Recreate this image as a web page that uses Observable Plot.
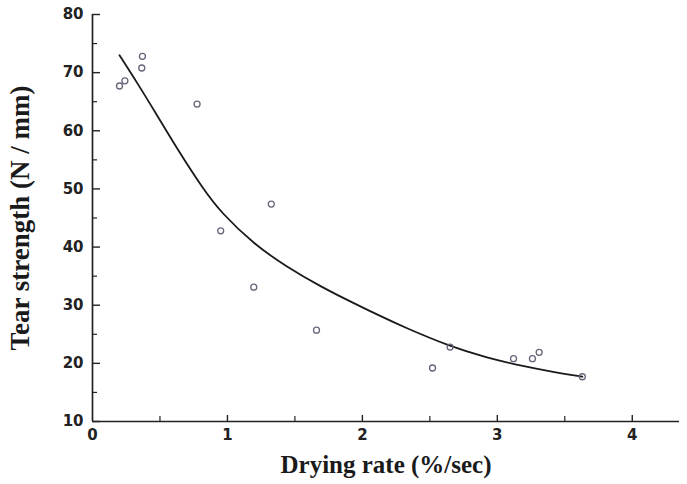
<!DOCTYPE html>
<html><head><meta charset="utf-8">
<script src="https://cdn.jsdelivr.net/npm/d3@7"></script>
<script src="https://cdn.jsdelivr.net/npm/@observablehq/plot@0.6"></script>
<style>body{margin:0;background:#fff}</style>
</head><body><div id="chart"></div>
<script>
// Observed data points (drying rate %/sec, tear strength N/mm)
const pointX = [0.20, 0.24, 0.365, 0.37, 0.775, 0.95, 1.195, 1.325, 1.66, 2.52, 2.65, 3.12, 3.26, 3.31, 3.63];
const pointY = [67.7, 68.6, 70.8, 72.8, 64.6, 42.8, 33.1, 47.4, 25.7, 19.2, 22.8, 20.8, 20.8, 21.9, 17.7];
// Fitted curve
const curveX = [0.20, 0.33, 0.47, 0.63, 0.82, 0.95, 1.20, 1.44, 1.69, 1.94, 2.10, 2.31, 2.65, 2.92, 3.17, 3.42, 3.63];
const curveY = [73.0, 68.3, 63.0, 56.8, 50.0, 46.0, 40.4, 36.6, 33.2, 30.3, 28.5, 26.2, 22.9, 21.0, 19.6, 18.5, 17.7];
const xTicks = [0, 1, 2, 3, 4];
const xMajorTickMarks = [1, 2, 3, 4];
const xMinor = [0.5, 1.5, 2.5, 3.5];
const yTicks = [10, 20, 30, 40, 50, 60, 70, 80];
const yMinor = [15, 25, 35, 45, 55, 65, 75];
const xTitle = "Drying rate (%/sec)";
const yTitle = "Tear strength (N / mm)";

const points = pointX.map((x, i) => ({x, y: pointY[i]}));
const curve = curveX.map((x, i) => ({x, y: curveY[i]}));

const ink = "#222";
const tickFont = {fontSize: 15, fontWeight: "bold", fill: ink, fontFamily: "DejaVu Sans"};
const titleFontX = {fontSize: 25, fontWeight: "bold", fill: "#1a1a1a", fontFamily: "Liberation Serif"};
const titleFontY = {fontSize: 27, fontWeight: "bold", fill: "#1a1a1a", fontFamily: "Liberation Serif"};
const fmt = d => String(d);

const chart = Plot.plot({
  width: 687, height: 484,
  marginLeft: 92, marginTop: 14, marginBottom: 63, marginRight: 8,
  x: {domain: [0, 4.35]},
  y: {domain: [10, 80]},
  style: {background: "#fff"},
  marks: [
    Plot.ruleX([0], {stroke: ink, strokeWidth: 1.7}),
    Plot.ruleY([10], {stroke: ink, strokeWidth: 1.7}),
    Plot.axisY({ticks: yTicks, tickSize: 0, tickPadding: 9, tickFormat: fmt, label: null, ...tickFont}),
    Plot.axisY({ticks: yTicks, tickSize: 8, dx: 8, tickFormat: () => "", label: null, stroke: ink, strokeWidth: 1.4}),
    Plot.axisY({ticks: yMinor, tickSize: 5, dx: 5, tickFormat: () => "", label: null, stroke: ink, strokeWidth: 1.2}),
    Plot.axisY({ticks: [], tickSize: 0, label: yTitle, labelAnchor: "center", labelArrow: "none", labelOffset: 83, ...titleFontY}),
    Plot.axisX({ticks: xTicks, tickSize: 0, tickPadding: 8, tickFormat: fmt, label: null, ...tickFont}),
    Plot.axisX({ticks: xMajorTickMarks, tickSize: 6, dy: -6, tickFormat: () => "", label: null, stroke: ink, strokeWidth: 1.4}),
    Plot.axisX({ticks: xMinor, tickSize: 5, dy: -5, tickFormat: () => "", label: null, stroke: ink, strokeWidth: 1.2}),
    Plot.line(curve, {x: "x", y: "y", curve: "basis", stroke: "#1a1a1a", strokeWidth: 1.8}),
    Plot.dot(points, {x: "x", y: "y", r: 3, stroke: "#66667a", strokeWidth: 1.3, fill: "none"}),
    Plot.text([xTitle], {text: d => d, frameAnchor: "bottom", dy: 51, ...titleFontX})
  ]
});
document.getElementById("chart").appendChild(chart);
</script>
</body></html>
